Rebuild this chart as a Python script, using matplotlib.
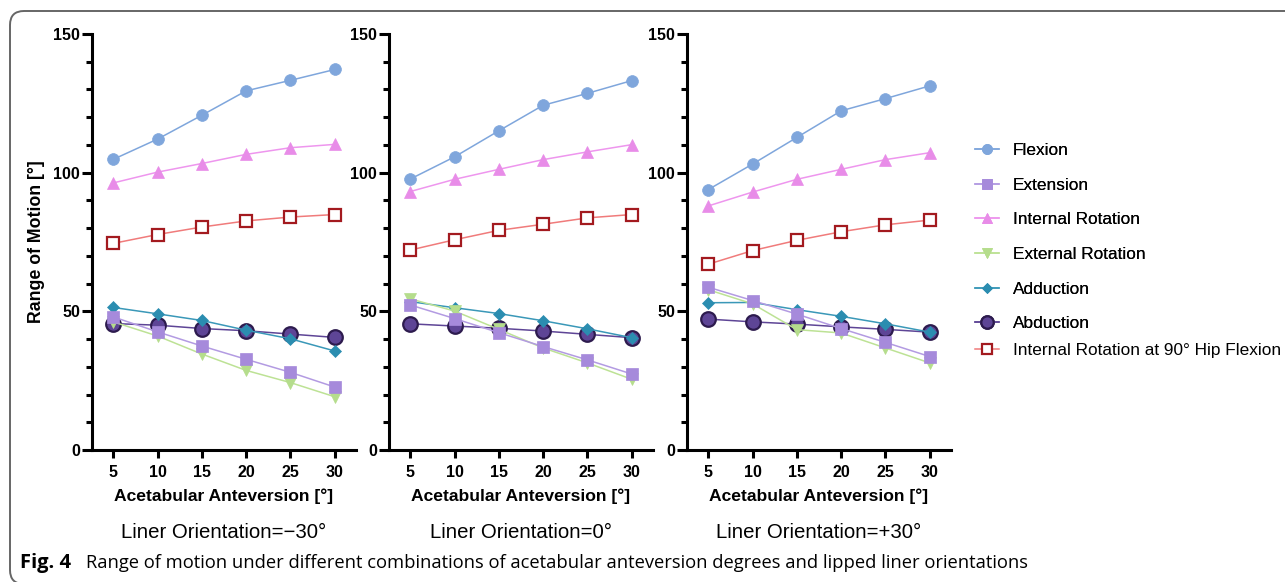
import matplotlib
matplotlib.use('Agg')
import matplotlib.pyplot as plt
from matplotlib.patches import FancyBboxPatch
from matplotlib.ticker import MultipleLocator

# ---------------- data ----------------
anteversion = [5, 10, 15, 20, 25, 30]
series_names = ["Flexion", "Extension", "Internal Rotation", "External Rotation",
                "Adduction", "Abduction", "Internal Rotation at 90° Hip Flexion"]
panel_titles = ["Liner Orientation=\u221230\u00b0", "Liner Orientation=0\u00b0",
                "Liner Orientation=+30\u00b0"]
y_ticks = [0, 50, 100, 150]

# Liner orientation -30
flex_m30 = [104.8, 112.1, 120.7, 129.5, 133.3, 137.2]
ext_m30 = [48.0, 42.6, 37.5, 32.7, 28.0, 22.7]
ir_m30 = [96.3, 100.2, 103.3, 106.6, 109.0, 110.2]
er_m30 = [46.2, 41.1, 34.6, 28.7, 24.3, 19.2]
add_m30 = [51.4, 49.1, 46.7, 43.2, 40.1, 35.7]
abd_m30 = [45.6, 45.0, 43.8, 43.0, 41.8, 40.6]
ir90_m30 = [74.5, 77.7, 80.4, 82.6, 84.0, 84.9]

# Liner orientation 0
flex_0 = [97.7, 105.7, 115.1, 124.3, 128.6, 133.2]
ext_0 = [52.3, 47.4, 42.3, 37.3, 32.5, 27.4]
ir_0 = [93.2, 97.6, 101.2, 104.7, 107.5, 110.1]
er_0 = [54.5, 50.1, 43.5, 36.8, 31.4, 25.5]
add_0 = [53.5, 51.3, 49.2, 46.6, 43.7, 40.5]
abd_0 = [45.5, 44.7, 43.9, 42.9, 41.7, 40.5]
ir90_0 = [72.1, 75.8, 79.2, 81.4, 83.7, 84.9]

# Liner orientation +30
flex_p30 = [93.9, 103.1, 112.7, 122.3, 126.7, 131.3]
ext_p30 = [58.7, 53.9, 49.0, 43.8, 38.8, 33.7]
ir_p30 = [88.0, 93.0, 97.6, 101.2, 104.7, 107.2]
er_p30 = [57.8, 52.7, 43.4, 42.2, 36.8, 31.4]
add_p30 = [53.1, 53.2, 50.6, 48.2, 45.5, 42.5]
abd_p30 = [47.2, 46.2, 45.4, 44.4, 43.5, 42.5]
ir90_p30 = [67.0, 71.9, 75.6, 78.7, 81.2, 82.9]

panel_data = [
    [flex_m30, ext_m30, ir_m30, er_m30, add_m30, abd_m30, ir90_m30],
    [flex_0, ext_0, ir_0, er_0, add_0, abd_0, ir90_0],
    [flex_p30, ext_p30, ir_p30, er_p30, add_p30, abd_p30, ir90_p30],
]

# ---------------- styles ----------------
styles = [
    dict(color='#7FA6DC', marker='o', ms=8.5, mfc='#7FA6DC', mec='#7FA6DC', mew=0.5),
    dict(color='#B39BE2', marker='s', ms=8.0, mfc='#A68ADB', mec='#A68ADB', mew=0.5),
    dict(color='#EE96EE', marker='^', ms=8.0, mfc='#E88CE8', mec='#E88CE8', mew=0.5),
    dict(color='#BDE295', marker='v', ms=8.0, mfc='#B5DD8C', mec='#B5DD8C', mew=0.5),
    dict(color='#3A98B8', marker='D', ms=6.5, mfc='#2B8DB0', mec='#2B8DB0', mew=0.5),
    dict(color='#5E4596', marker='o', ms=10.5, mfc='#5E4596', mec='#2D1B4E', mew=1.6),
    dict(color='#F07B7B', marker='s', ms=8.0, mfc='white', mec='#A31A1F', mew=1.6),
]

plt.rcParams['font.family'] = ['Liberation Sans', 'DejaVu Sans']

W, H = 1285, 582
fig = plt.figure(figsize=(W / 100, H / 100), dpi=100)
fig.patch.set_facecolor('white')

# rounded frame (only top & left visible)
frame = FancyBboxPatch((10, -2), 1320, 573, boxstyle="round,pad=0,rounding_size=14",
                       transform=None, fill=False, edgecolor='#666666', linewidth=1.4,
                       clip_on=False)
fig.add_artist(frame)

ax_lefts = [92, 389, 687]
ax_w = 264
ax_bottom, ax_top = 450, 34
axes = []
for i, (left, data, title) in enumerate(zip(ax_lefts, panel_data, panel_titles)):
    ax = fig.add_axes([left / W, (H - ax_bottom) / H, ax_w / W, (ax_bottom - ax_top) / H])
    ax.set_facecolor('none')
    n = len(series_names)
    for k, (vals, name, st) in enumerate(zip(data, series_names, styles)):
        ax.plot(anteversion, vals, label=name, linewidth=1.1, zorder=10 + (n - k),
                clip_on=False, **st)
    ax.set_xlim(2.6, 32.4)
    ax.set_ylim(0, 150)
    ax.set_xticks(anteversion)
    ax.set_yticks(y_ticks)
    ax.yaxis.set_minor_locator(MultipleLocator(10))
    for s in ['top', 'right']:
        ax.spines[s].set_visible(False)
    for s in ['left', 'bottom']:
        ax.spines[s].set_linewidth(2.2)
    ax.tick_params(axis='y', which='major', length=7.5, width=2.2, labelsize=11.5, pad=1)
    ax.tick_params(axis='y', which='minor', length=4.5, width=2.2)
    ax.tick_params(axis='x', which='major', length=6, width=2.2, labelsize=11.5, pad=5)
    for lab in ax.get_xticklabels() + ax.get_yticklabels():
        lab.set_fontweight('bold')
    ax.set_xlabel("Acetabular Anteversion [\u00b0]", fontsize=12.6, fontweight='bold', labelpad=6)
    if i == 0:
        ax.set_ylabel("Range of Motion [\u00b0]", fontsize=12.8, fontweight='bold', labelpad=6)
    cx = (left + ax_w / 2) / W
    fig.text(cx, 1 - 533 / H, title, ha='center', va='center', fontsize=14.7)
    axes.append(ax)

# legends
handles, labels = axes[0].get_legend_handles_labels()
leg_kw = dict(loc='upper left', frameon=False, fontsize=12.4, handlelength=1.4,
              handletextpad=0.8, markerscale=0.85, borderaxespad=0)
leg1 = fig.legend(handles[:6], labels[:6], bbox_to_anchor=(968 / W, 1 - 136 / H),
                  labelspacing=1.14, **leg_kw)
leg2 = fig.legend(handles[6:], labels[6:], bbox_to_anchor=(968 / W, 1 - 336 / H),
                  **leg_kw)
fig.add_artist(leg1)

# caption
cap_y = 1 - 563 / H
fig.text(20 / W, cap_y, "Fig. 4", ha='left', va='center', fontsize=14.5,
         fontweight='bold', family=['Open Sans', 'DejaVu Sans'])
fig.text(86 / W, cap_y,
         "Range of motion under different combinations of acetabular anteversion degrees and lipped liner orientations",
         ha='left', va='center', fontsize=13.2, family=['Open Sans', 'DejaVu Sans'])

fig.savefig('out.png', dpi=100)
